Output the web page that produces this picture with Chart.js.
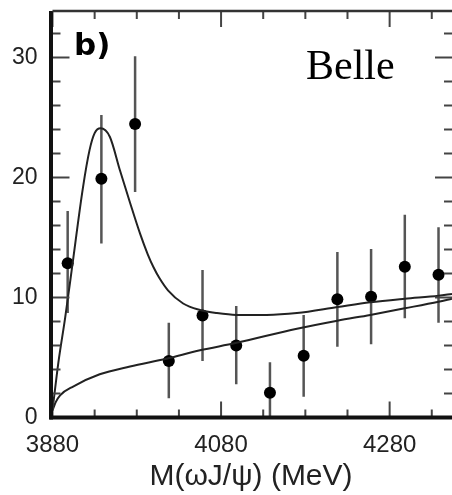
<!DOCTYPE html>
<html>
<head>
<meta charset="utf-8">
<script src="https://cdn.jsdelivr.net/npm/chart.js"></script>
<style>
  html, body { margin: 0; padding: 0; background: #fff; overflow: hidden; }
  #wrap { position: relative; width: 452px; height: 495px; }
</style>
</head>
<body>
<div id="wrap"><canvas id="myChart" width="452" height="495"></canvas></div>
<script>
// data points (MeV, events / bin)
const massPts = [3898, 3938, 3978, 4018, 4058, 4098, 4138, 4178, 4218, 4258, 4298, 4338];
const counts  = [12.85, 19.9, 24.45, 4.7, 8.5, 6.0, 2.07, 5.15, 9.85, 10.07, 12.57, 11.9];
const errLow  = [8.7, 14.5, 18.8, 1.6, 4.7, 2.77, 0, 1.73, 5.9, 6.1, 8.27, 7.9];
const errHigh = [17.2, 25.2, 30.1, 7.9, 12.3, 9.3, 4.6, 8.55, 13.8, 14.05, 16.9, 15.85];

// fit curve (signal + background)
const fitMass  = [3880, 3887, 3895, 3903, 3916, 3924, 3930, 3937, 3948, 3960, 3972, 3984, 3993, 4000, 4007, 4017, 4035, 4055, 4075, 4098, 4134, 4170, 4218, 4257, 4298, 4338, 4354];
const fitTotal = [0.6, 4.6, 8.3, 12.4, 19.1, 22.3, 23.7, 24.1, 23.4, 20.6, 17.9, 15.3, 13.6, 12.5, 11.6, 10.6, 9.5, 8.96, 8.7, 8.55, 8.55, 8.7, 9.2, 9.6, 9.9, 10.15, 10.3];

// background only
const bkgMass = [3880, 3884, 3889, 3905, 3936, 3972, 4015, 4055, 4097, 4170, 4218, 4257, 4298, 4338, 4354];
const bkgVals = [0.6, 1.3, 1.85, 2.6, 3.6, 4.25, 4.9, 5.6, 6.2, 7.4, 8.07, 8.55, 9.1, 9.65, 9.9];

const xTicks = [3880, 4080, 4280];
const yTicks = [0, 10, 20, 30];
const xMinor = [3930, 3980, 4030, 4130, 4180, 4230, 4330];
const yMinor = [2, 4, 6, 8, 12, 14, 16, 18, 22, 24, 26, 28, 32];

function toXY(xs, ys) {
  return xs.map((x, i) => ({x: x, y: ys[i]}));
}

// error bars under the points
const errorBars = {
  id: 'errorBars',
  beforeDatasetsDraw(chart) {
    const ctx = chart.ctx;
    const xs = chart.scales.x, ys = chart.scales.y;
    const area = chart.chartArea;
    ctx.save();
    ctx.beginPath();
    ctx.rect(area.left, area.top, area.right - area.left, area.bottom - area.top);
    ctx.clip();
    ctx.strokeStyle = '#555';
    ctx.lineWidth = 2.5;
    for (let i = 0; i < massPts.length; i++) {
      const px = xs.getPixelForValue(massPts[i]);
      ctx.beginPath();
      ctx.moveTo(px, ys.getPixelForValue(errLow[i]));
      ctx.lineTo(px, ys.getPixelForValue(errHigh[i]));
      ctx.stroke();
    }
    ctx.restore();
  }
};

// frame with inward ticks, plus the text labels inside the plot
const frame = {
  id: 'frame',
  afterDraw(chart) {
    const ctx = chart.ctx;
    const xs = chart.scales.x, ys = chart.scales.y;
    const a = chart.chartArea;
    ctx.save();
    ctx.strokeStyle = '#444';
    ctx.lineWidth = 2;
    const tick = (x1, y1, x2, y2) => { ctx.beginPath(); ctx.moveTo(x1, y1); ctx.lineTo(x2, y2); ctx.stroke(); };
    xTicks.forEach(v => { const p = xs.getPixelForValue(v); tick(p, a.bottom, p, a.bottom - 16); tick(p, a.top, p, a.top + 16); });
    xMinor.forEach(v => { const p = xs.getPixelForValue(v); tick(p, a.bottom, p, a.bottom - 8); tick(p, a.top, p, a.top + 8); });
    yTicks.forEach(v => { const p = ys.getPixelForValue(v); tick(a.left, p, a.left + 17, p); tick(a.right, p, a.right - 17, p); });
    yMinor.forEach(v => { const p = ys.getPixelForValue(v); tick(a.left, p, a.left + 8, p); tick(a.right, p, a.right - 8, p); });

    // axis lines
    ctx.strokeStyle = '#111';
    ctx.lineWidth = 4;
    tick(a.left - 1.5, a.top, a.left - 1.5, a.bottom + 2);
    tick(a.left - 3, a.bottom, a.right, a.bottom);
    ctx.strokeStyle = '#333';
    ctx.lineWidth = 2.5;
    tick(a.left, a.top, a.right, a.top);

    // labels
    ctx.fillStyle = '#000';
    ctx.textBaseline = 'alphabetic';
    ctx.textAlign = 'left';
    ctx.font = 'bold 31px "DejaVu Sans", sans-serif';
    ctx.fillText('b)', 74, 55);
    ctx.font = '42px "Liberation Serif", "Times New Roman", serif';
    ctx.fillText('Belle', 306, 79);

    ctx.fillStyle = '#222';
    ctx.textAlign = 'center';
    ctx.font = '30px "Liberation Sans", Arial, sans-serif';
    ctx.fillText('M(\u03c9J/\u03c8) (MeV)', 251, 485);
    ctx.restore();
  }
};

const config = {
  type: 'scatter',
  data: {
    datasets: [
      {
        type: 'line',
        label: 'fit',
        data: toXY(fitMass, fitTotal),
        borderColor: '#222',
        borderWidth: 2,
        pointRadius: 0,
        cubicInterpolationMode: 'monotone',
        fill: false
      },
      {
        type: 'line',
        label: 'background',
        data: toXY(bkgMass, bkgVals),
        borderColor: '#222',
        borderWidth: 2,
        pointRadius: 0,
        cubicInterpolationMode: 'monotone',
        fill: false
      },
      {
        label: 'data',
        data: toXY(massPts, counts),
        pointRadius: 6,
        pointBackgroundColor: '#000',
        pointBorderColor: '#000',
        pointBorderWidth: 0
      }
    ]
  },
  options: {
    responsive: false,
    animation: false,
    events: [],
    layout: { autoPadding: false, padding: { top: 11, right: 0, left: 0, bottom: 0 } },
    plugins: {
      legend: { display: false },
      tooltip: { enabled: false }
    },
    scales: {
      x: {
        type: 'linear',
        min: 3880,
        max: 4354,
        grid: { display: false, drawTicks: false },
        border: { display: false },
        afterBuildTicks: s => { s.ticks = xTicks.map(v => ({value: v})); },
        afterFit: s => { s.height = 77.5; s.paddingLeft = 0; s.paddingRight = 0; },
        ticks: {
          padding: 13,
          maxRotation: 0,
          color: '#222',
          callback: v => String(v),
          font: { family: '"Liberation Sans", Arial, sans-serif', size: 24 }
        }
      },
      y: {
        type: 'linear',
        min: 0,
        max: 33.875,
        grid: { display: false, drawTicks: false },
        border: { display: false },
        afterBuildTicks: s => { s.ticks = yTicks.map(v => ({value: v})); },
        afterFit: s => { s.width = 52.5; s.paddingTop = 0; s.paddingBottom = 0; },
        ticks: {
          padding: 15,
          color: '#222',
          callback: v => String(v),
          font: { family: '"Liberation Sans", Arial, sans-serif', size: 23 }
        }
      }
    }
  },
  plugins: [errorBars, frame]
};

const myChart = new Chart(document.getElementById('myChart'), config);
</script>
</body>
</html>
